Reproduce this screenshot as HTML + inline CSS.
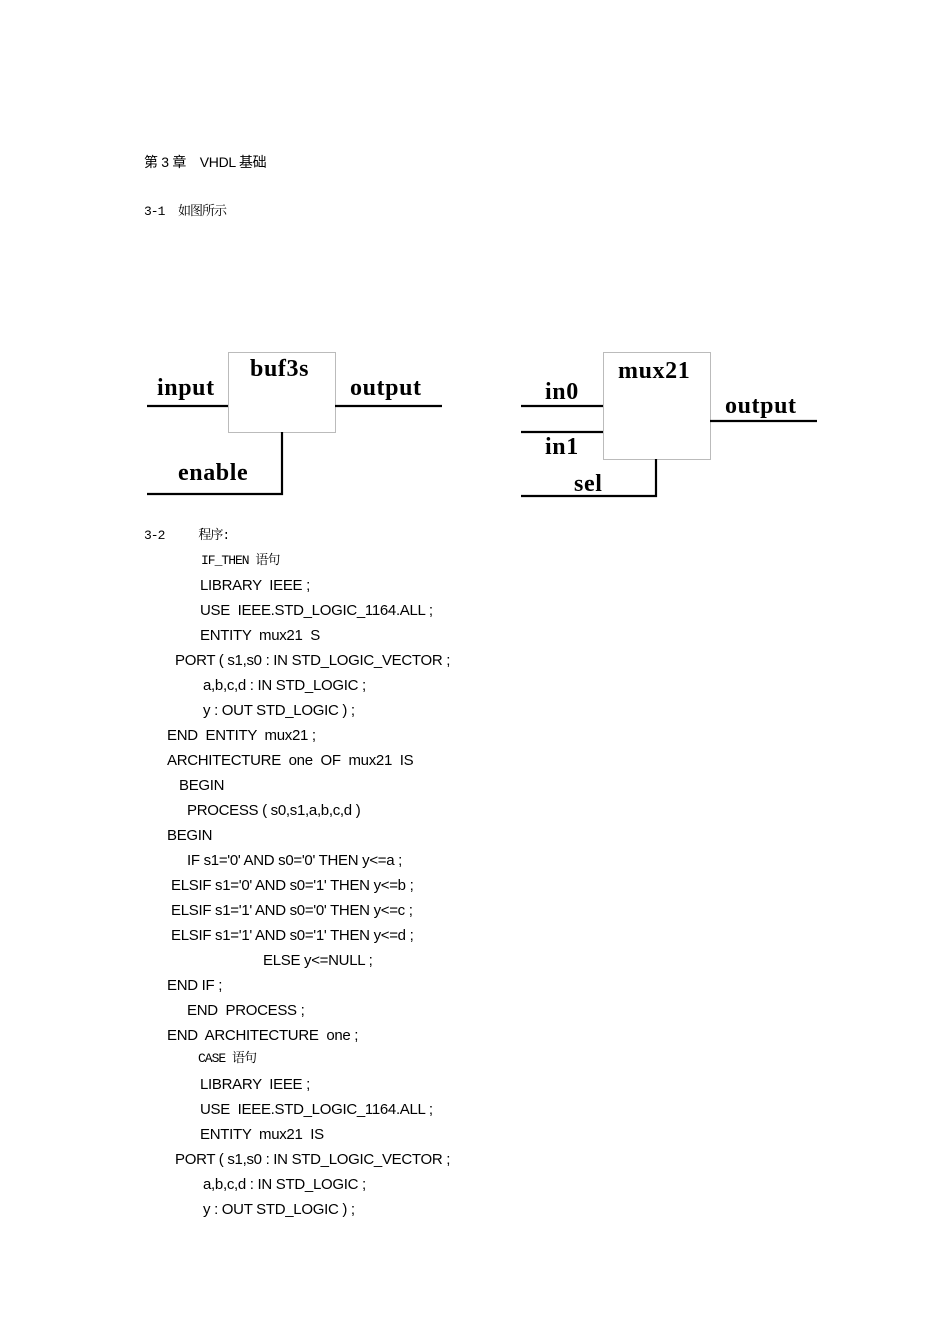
<!DOCTYPE html>
<html><head><meta charset="utf-8"><style>
body{margin:0;background:#fff;width:950px;height:1344px;position:relative;overflow:hidden;}
.t{position:absolute;white-space:pre;font-family:"Liberation Sans","Noto Sans CJK SC",sans-serif;font-size:15px;letter-spacing:-0.3px;color:#000;line-height:18px;}
.k{position:absolute;white-space:pre;font-family:"Liberation Mono","Noto Serif CJK SC",monospace;font-size:13px;letter-spacing:-1px;line-height:18px;}
</style></head><body>
<div class="t" style="left:144px;top:153px;font-size:14px">第 3 章　VHDL 基础</div>
<div class="k" style="left:144px;top:203px">3-1  如图所示</div>

<svg width="950" height="1344" style="position:absolute;left:0;top:0">
<g fill="none" stroke="#bbb" stroke-width="1">
<rect x="228.5" y="352.5" width="107" height="80"/>
<rect x="603.5" y="352.5" width="107" height="107"/>
</g>
<g stroke="#000" stroke-width="2.2" fill="none">
<line x1="147" y1="406" x2="228" y2="406"/>
<line x1="335" y1="406" x2="442" y2="406"/>
<polyline points="282,432 282,494 147,494"/>
<line x1="521" y1="406" x2="603" y2="406"/>
<line x1="521" y1="432" x2="603" y2="432"/>
<line x1="710" y1="421" x2="817" y2="421"/>
<polyline points="656,459 656,496 521,496"/>
</g>
<g font-family="Liberation Serif" font-weight="bold" font-size="24" letter-spacing="0.6">
<text x="157" y="395">input</text>
<text x="250" y="376">buf3s</text>
<text x="350" y="395">output</text>
<text x="178" y="480">enable</text>
<text x="545" y="399">in0</text>
<text x="545" y="454">in1</text>
<text x="618" y="378">mux21</text>
<text x="725" y="413">output</text>
<text x="574" y="491">sel</text>
</g>
</svg>

<div class="k" style="left:144px;top:527px">3-2     程序:</div>
<div class="k" style="left:201px;top:552px">IF_THEN 语句</div>
<div class="t" style="left:200px;top:577px">LIBRARY  IEEE ;</div>
<div class="t" style="left:200px;top:602px">USE  IEEE.STD_LOGIC_1164.ALL ;</div>
<div class="t" style="left:200px;top:627px">ENTITY  mux21  S</div>
<div class="t" style="left:175px;top:652px">PORT ( s1,s0 : IN STD_LOGIC_VECTOR ;</div>
<div class="t" style="left:203px;top:677px">a,b,c,d : IN STD_LOGIC ;</div>
<div class="t" style="left:203px;top:702px">y : OUT STD_LOGIC ) ;</div>
<div class="t" style="left:167px;top:727px">END  ENTITY  mux21 ;</div>
<div class="t" style="left:167px;top:752px">ARCHITECTURE  one  OF  mux21  IS</div>
<div class="t" style="left:179px;top:777px">BEGIN</div>
<div class="t" style="left:187px;top:802px">PROCESS ( s0,s1,a,b,c,d )</div>
<div class="t" style="left:167px;top:827px">BEGIN</div>
<div class="t" style="left:187px;top:852px">IF s1='0' AND s0='0' THEN y&lt;=a ;</div>
<div class="t" style="left:171px;top:877px">ELSIF s1='0' AND s0='1' THEN y&lt;=b ;</div>
<div class="t" style="left:171px;top:902px">ELSIF s1='1' AND s0='0' THEN y&lt;=c ;</div>
<div class="t" style="left:171px;top:927px">ELSIF s1='1' AND s0='1' THEN y&lt;=d ;</div>
<div class="t" style="left:263px;top:952px">ELSE y&lt;=NULL ;</div>
<div class="t" style="left:167px;top:977px">END IF ;</div>
<div class="t" style="left:187px;top:1002px">END  PROCESS ;</div>
<div class="t" style="left:167px;top:1027px">END  ARCHITECTURE  one ;</div>
<div class="k" style="left:198px;top:1050px">CASE 语句</div>
<div class="t" style="left:200px;top:1076px">LIBRARY  IEEE ;</div>
<div class="t" style="left:200px;top:1101px">USE  IEEE.STD_LOGIC_1164.ALL ;</div>
<div class="t" style="left:200px;top:1126px">ENTITY  mux21  IS</div>
<div class="t" style="left:175px;top:1151px">PORT ( s1,s0 : IN STD_LOGIC_VECTOR ;</div>
<div class="t" style="left:203px;top:1176px">a,b,c,d : IN STD_LOGIC ;</div>
<div class="t" style="left:203px;top:1201px">y : OUT STD_LOGIC ) ;</div>
</body></html>
